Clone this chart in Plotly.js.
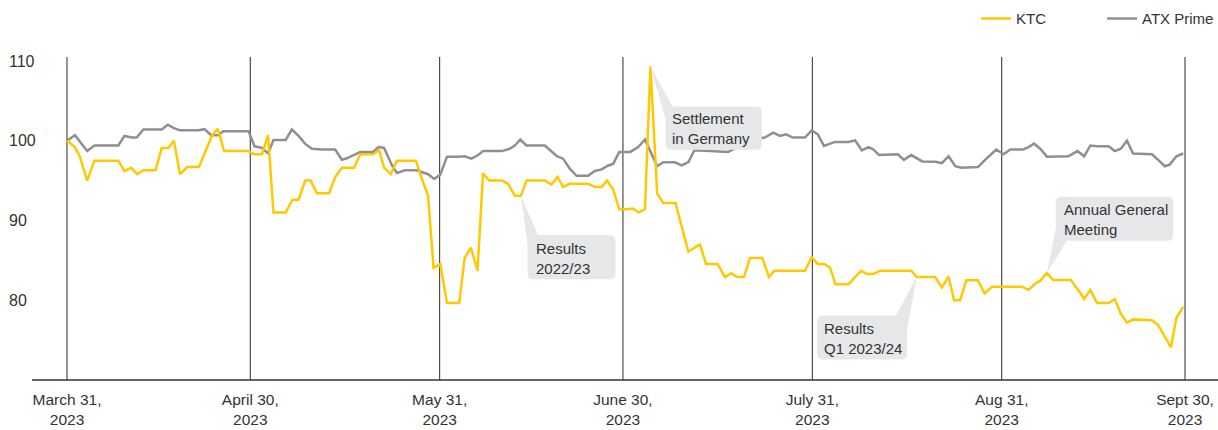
<!DOCTYPE html>
<html>
<head>
<meta charset="utf-8">
<script src="https://cdn.plot.ly/plotly-3.0.1.min.js"></script>
<style>
  html, body { margin: 0; padding: 0; background: #ffffff; }
  #chart { width: 1218px; height: 430px; }
</style>
</head>
<body>
<div id="chart"></div>
<script>
// ---- Data (indexed performance, March 31, 2023 = 100) ----
// x values: days since March 31, 2023
const tickDays   = [0, 30, 61, 91, 122, 153, 183];
const tickLabels = ['March 31,<br>2023', 'April 30,<br>2023', 'May 31,<br>2023', 'June 30,<br>2023',
                    'July 31,<br>2023', 'Aug 31,<br>2023', 'Sept 30,<br>2023'];
const yTicks = [80, 90, 100, 110];

const ktcDays = [0, 1.3, 2.1, 3.3, 4.5, 8.4, 9.4, 10.5, 11.5, 12.5, 14.5, 15.5, 16.6, 17.5, 18.5, 19.7, 21.6,
  23.7, 24.7, 25.7, 29.7, 30.6, 31.9, 32.9, 33.8, 35.8, 36.9, 37.9, 39.0, 39.9, 40.9, 42.9, 43.9, 45.0,
  47.0, 48.0, 50.1, 51.1, 51.9, 53.0, 54.0, 57.1, 58.1, 59.1, 60.0, 61.1, 62.2, 64.2, 65.1, 66.1, 67.2,
  68.1, 69.1, 71.2, 72.2, 73.3, 74.3, 75.2, 78.2, 79.3, 80.3, 81.2, 82.3, 85.3, 86.4, 87.5, 88.4, 89.4,
  90.4, 91.6, 92.6, 93.6, 94.6, 95.5, 96.6, 97.6, 99.6, 101.7, 103.6, 104.6, 106.5, 107.7, 108.7, 109.7,
  110.8, 111.8, 113.8, 114.9, 115.8, 120.8, 121.9, 122.9, 123.9, 124.9, 125.8, 127.9, 130.0, 130.9, 132.0,
  133.1, 138.2, 139.1, 142.1, 143.2, 144.3, 145.2, 146.2, 147.2, 149.1, 150.2, 151.4, 156.3, 157.4, 158.5,
  159.3, 160.4, 161.4, 164.3, 165.4, 166.5, 167.5, 168.6, 170.5, 171.5, 172.5, 173.5, 174.5, 177.6, 178.6,
  179.7, 180.7, 181.6, 182.7];
const ktcValues = [100.0, 99.2, 98.0, 95.0, 97.5, 97.5, 96.2, 96.6, 95.8, 96.3, 96.3, 99.1, 99.1, 100.0, 95.8, 96.7, 96.7,
  100.6, 101.5, 98.7, 98.7, 98.3, 98.3, 100.7, 91.0, 91.0, 92.6, 92.6, 95.0, 95.0, 93.4, 93.4, 95.45, 96.6,
  96.6, 98.3, 98.3, 98.8, 96.6, 95.8, 97.5, 97.5, 95.2, 93.1, 84.05, 84.55, 79.65, 79.65, 85.3, 86.6, 83.7,
  95.9, 95.0, 95.0, 94.6, 93.1, 93.1, 95.0, 95.0, 94.5, 95.45, 94.2, 94.6, 94.6, 94.2, 94.2, 95.0, 93.9,
  91.4, 91.4, 91.5, 91.0, 91.4, 109.3, 93.4, 92.2, 92.2, 86.1, 87.0, 84.55, 84.55, 82.9, 83.4, 82.9,
  82.9, 85.3, 85.3, 82.9, 83.7, 83.7, 85.4, 84.55, 84.55, 84.1, 82.0, 82.0, 83.7, 83.3, 83.3,
  83.7, 83.7, 82.9, 82.9, 81.6, 82.95, 80.0, 80.0, 82.5, 82.5, 80.85, 81.7, 81.7, 81.3, 82.1,
  82.45, 83.4, 82.55, 82.55, 81.4, 80.15, 81.3, 79.65, 79.65, 80.15, 78.3, 77.2, 77.6, 77.5, 76.9,
  75.5, 74.1, 77.8, 79.2];

const atxDays = [0, 1.3, 3.3, 4.5, 8.4, 9.4, 10.6, 11.4, 12.5, 15.5, 16.5, 17.4, 18.5, 21.5, 22.5, 23.6, 24.7,
  25.6, 29.7, 30.7, 31.9, 32.9, 33.8, 35.8, 36.8, 37.9, 39.0, 40.1, 41.8, 43.9, 45.0, 45.8, 48.0, 50.1,
  51.0, 51.9, 53.2, 54.0, 55.3, 57.2, 59.1, 60.1, 61.1, 62.2, 64.1, 65.1, 66.2, 67.3, 68.1, 71.2, 72.5,
  73.3, 74.2, 75.2, 78.2, 79.3, 80.2, 81.2, 82.3, 83.4, 85.3, 86.4, 87.5, 88.6, 89.4, 90.4, 92.2, 93.5,
  94.6, 96.6, 97.6, 99.5, 100.6, 101.7, 102.7, 105.3, 108.2, 110.5, 112.4, 114.2, 115.6, 116.7, 117.7,
  118.8, 120.8, 121.9, 122.9, 123.9, 125.7, 127.9, 129.0, 130.1, 131.2, 132.0, 132.9, 136.0, 137.0, 138.2,
  140.0, 142.1, 143.2, 144.3, 145.4, 146.4, 149.1, 150.5, 152.1, 153.3, 154.4, 156.5, 157.4, 158.3, 159.3,
  160.4, 163.9, 165.4, 166.5, 167.5, 168.6, 170.5, 171.5, 172.5, 173.5, 174.5, 177.6, 178.6, 179.7, 180.5,
  181.6, 182.7];
const atxValues = [100.0, 100.7, 98.7, 99.4, 99.4, 100.6, 100.4, 100.4, 101.4, 101.4, 102.0, 101.6, 101.3, 101.3, 101.45, 100.7, 100.7,
  101.2, 101.2, 99.3, 99.1, 98.4, 100.1, 100.1, 101.4, 100.6, 99.6, 99.0, 98.9, 98.9, 97.6, 97.8, 98.6, 98.6,
  99.2, 99.1, 96.9, 95.95, 96.3, 96.3, 95.8, 95.2, 95.75, 98.0, 98.0, 98.05, 97.75, 98.2, 98.7, 98.7, 99.0,
  99.4, 100.15, 99.4, 99.4, 98.6, 98.05, 97.75, 96.5, 95.6, 95.6, 96.2, 96.4, 96.9, 97.1, 98.6, 98.6, 99.2,
  100.15, 96.8, 97.3, 97.3, 96.9, 97.3, 98.8, 98.7, 98.6, 99.5, 100.2, 100.4, 101.0, 100.6, 100.8,
  100.4, 100.4, 101.3, 100.8, 99.35, 99.85, 99.85, 100.05, 98.8, 99.2, 98.9, 98.2, 98.3, 97.6, 98.2,
  97.4, 97.35, 97.2, 98.05, 96.8, 96.6, 96.7, 97.75, 98.9, 98.3, 98.9, 98.9, 99.2, 99.65, 99.0,
  98.0, 98.05, 98.7, 98.05, 99.4, 99.3, 99.3, 98.7, 99.0, 100.0, 98.4, 98.3, 97.6, 96.8, 97.0,
  98.05, 98.4];

// Events (callouts point at a KTC data point by index)
const eventLabels = ['Results<br>2022/23', 'Settlement<br>in Germany', 'Results<br>Q1 2023/24', 'Annual General<br>Meeting'];
const eventIndex  = [56, 73, 101, 115];

// ---- Styling ----
const KTC_COLOR = '#ffc800';
const ATX_COLOR = '#8f8f91';
const TEXT_COLOR = '#333333';
const RULE_COLOR = '#2a2a2a';
const BOX_COLOR = '#e6e7e8';
const FONT = 'Liberation Sans, Arial, Helvetica, sans-serif';
const Y_MIN = 70, Y_RULE_TOP = 110.5, Y_MAX = 112;

// Callout geometry in screen pixels relative to the pointed data point (y down)
const calloutGeom = [
  {box: [6.6, 39.3, 94.6, 83.6],    tail: [[6.6, 48], [17, 39.3]],     tx: 13.3,  ty: 62.6},
  {box: [15, 40, 111.3, 83.3],      tail: [[15, 52], [22, 40]],        tx: 19.3,  ty: 62.3},
  {box: [-99.7, 38.3, -9.7, 82.3],  tail: [[-21, 38.3], [-9.7, 52]],   tx: -94.4, ty: 61},
  {box: [8.8, -76.4, 126.4, -32.4], tail: [[8.8, -44], [20, -32.4]],   tx: 14.8,  ty: -53.2}
];

function roundedRect(b, r) {
  const [x0, y0, x1, y1] = b;
  const P = (x, y) => x.toFixed(2) + ',' + (-y).toFixed(2);
  return 'M' + P(x0 + r, y0) + ' L' + P(x1 - r, y0) + ' Q' + P(x1, y0) + ' ' + P(x1, y0 + r) +
         ' L' + P(x1, y1 - r) + ' Q' + P(x1, y1) + ' ' + P(x1 - r, y1) +
         ' L' + P(x0 + r, y1) + ' Q' + P(x0, y1) + ' ' + P(x0, y1 - r) +
         ' L' + P(x0, y0 + r) + ' Q' + P(x0, y0) + ' ' + P(x0 + r, y0) + ' Z';
}
function tailPath(t) {
  const P = (x, y) => x.toFixed(2) + ',' + (-y).toFixed(2);
  return 'M0,0 L' + P(t[0][0], t[0][1]) + ' L' + P(t[1][0], t[1][1]) + ' Z';
}

const shapes = [
  // baseline (x axis line)
  {type: 'line', xref: 'paper', yref: 'paper', x0: 32 / 1218, x1: 1, y0: 0, y1: 0,
   line: {color: TEXT_COLOR, width: 1.5}, layer: 'above'}
];
// vertical month-end rules at each tick date
tickDays.forEach(d => {
  shapes.push({type: 'line', xref: 'x', yref: 'y', x0: d, x1: d, y0: Y_MIN, y1: Y_RULE_TOP,
               line: {color: RULE_COLOR, width: 1}, layer: 'below'});
});
const annotations = [];

eventIndex.forEach((idx, k) => {
  const g = calloutGeom[k];
  const common = {xref: 'x', yref: 'y', xsizemode: 'pixel', ysizemode: 'pixel',
                  xanchor: ktcDays[idx], yanchor: ktcValues[idx],
                  fillcolor: BOX_COLOR, line: {width: 0}, layer: 'above', type: 'path'};
  shapes.push(Object.assign({}, common, {path: tailPath(g.tail)}));
  shapes.push(Object.assign({}, common, {path: roundedRect(g.box, 6)}));
  annotations.push({
    xref: 'x', yref: 'y', x: ktcDays[idx], y: ktcValues[idx],
    text: eventLabels[k], showarrow: false, xanchor: 'left', yanchor: 'middle', align: 'left',
    xshift: g.tx, yshift: -g.ty,
    font: {family: FONT, size: 15, color: TEXT_COLOR}
  });
});

const traces = [
  {x: atxDays, y: atxValues, type: 'scatter', mode: 'lines', name: 'ATX Prime',
   line: {color: ATX_COLOR, width: 2.5}},
  {x: ktcDays, y: ktcValues, type: 'scatter', mode: 'lines', name: 'KTC',
   line: {color: KTC_COLOR, width: 2.5}}
];

const layout = {
  width: 1218, height: 430,
  margin: {l: 0, r: 0, t: 45, b: 50, pad: 0},
  paper_bgcolor: '#ffffff', plot_bgcolor: '#ffffff',
  font: {family: FONT, color: TEXT_COLOR, size: 16},
  showlegend: true,
  legend: {
    orientation: 'h', traceorder: 'reversed',
    xref: 'container', yref: 'container',
    x: 976 / 1218, xanchor: 'left', y: 0.995, yanchor: 'top',
    font: {family: FONT, size: 15, color: TEXT_COLOR},
    entrywidth: 81, bgcolor: 'rgba(0,0,0,0)'
  },
  xaxis: {
    type: 'linear', range: [-10.967, 188.402],
    tickmode: 'array', tickvals: tickDays, ticktext: tickLabels,
    showgrid: false, zeroline: false, showline: false, ticks: '',
    ticklabelstandoff: 8,
    tickfont: {family: FONT, size: 15.5, color: TEXT_COLOR},
    fixedrange: true
  },
  yaxis: {
    range: [Y_MIN, Y_MAX],
    tickmode: 'array', tickvals: yTicks,
    ticklabelposition: 'inside',
    ticklabelstandoff: 6,
    showgrid: false, zeroline: false, showline: false, ticks: '',
    tickfont: {family: FONT, size: 16, color: TEXT_COLOR},
    fixedrange: true
  },
  shapes: shapes,
  annotations: annotations,
  hovermode: false
};

Plotly.newPlot('chart', traces, layout, {displayModeBar: false, staticPlot: true});
</script>
</body>
</html>
